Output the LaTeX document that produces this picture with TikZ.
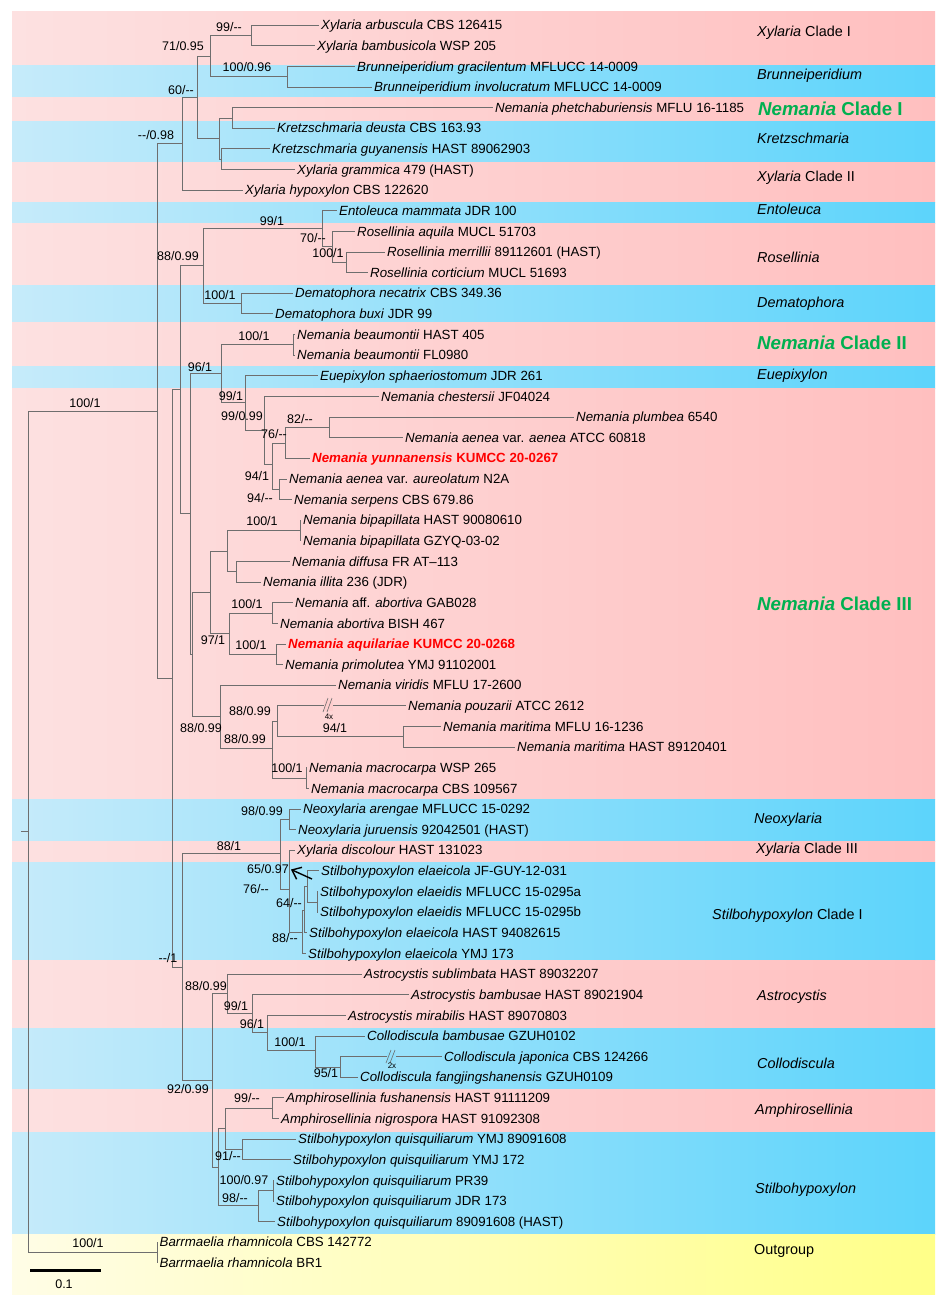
\documentclass[tikz,border=0pt]{standalone}
\usepackage{fontspec}
\setmainfont{Liberation Sans}
\usetikzlibrary{arrows.meta}
\definecolor{pinkL}{HTML}{FDE1E1}
\definecolor{pinkR}{HTML}{FFBFBF}
\definecolor{blueL}{HTML}{C6EBFA}
\definecolor{blueR}{HTML}{5CD4FB}
\definecolor{yelL}{HTML}{FFFDE6}
\definecolor{yelR}{HTML}{FFFF88}
\definecolor{cladegreen}{HTML}{00B050}
\definecolor{branchc}{HTML}{6E6E6E}
\newcommand\dd{-{}-}
\newcommand\leafnode[4]{\node[leaf] (#1) at (#2,#3) {#4};}
\newcommand\pband[3]{\shade[left color=pinkL,right color=pinkR] (12,#1) rectangle (935,#2);}
\newcommand\bband[3]{\shade[left color=blueL,right color=blueR] (12,#1) rectangle (935,#2);}
\begin{document}
\begin{tikzpicture}[x=1pt,y=-1pt,
  leaf/.style={anchor=west,inner sep=2pt,text height=9.5pt,text depth=0pt,font=\fontsize{13.3}{15}\selectfont},
  redleaf/.style={leaf,text=red,font=\fontsize{13.3}{15}\selectfont\bfseries},
  supp/.style={inner sep=0pt,font=\fontsize{12.5}{14}\selectfont},
  clade/.style={anchor=west,inner sep=0pt,font=\fontsize{14.4}{16}\selectfont},
  gclade/.style={anchor=west,inner sep=0pt,text=cladegreen,font=\fontsize{18.7}{20}\selectfont\bfseries},
  br/.style={draw=branchc,line width=0.8pt}]
\useasboundingbox (0,0) rectangle (947,1307);
% ---- background bands
\pband{11}{65}{}
\bband{65}{97}{}
\pband{97}{121}{}
\bband{121}{162}{}
\pband{162}{202}{}
\bband{202}{223}{}
\pband{223}{285}{}
\bband{285}{322}{}
\pband{322}{366}{}
\bband{366}{388}{}
\pband{388}{799}{}
\bband{799}{841}{}
\pband{841}{862}{}
\bband{862}{960}{}
\pband{960}{1028}{}
\bband{1028}{1089}{}
\pband{1089}{1132}{}
\bband{1132}{1234}{}
\shade[left color=yelL,right color=yelR] (12,1234) rectangle (935,1294);
% ---- clade labels
\node[clade] (c1) at (757,33) {\textit{Xylaria} Clade I};
\node[clade] (c2) at (757,76) {\textit{Brunneiperidium}};
\node[gclade] (c3) at (758,109) {\textit{Nemania} Clade I};
\node[clade] (c4) at (757,138) {\textit{Kretzschmaria}};
\node[clade] (c5) at (757,178) {\textit{Xylaria} Clade II};
\node[clade] (c6) at (757,209) {\textit{Entoleuca}};
\node[clade] (c7) at (757,257) {\textit{Rosellinia}};
\node[clade] (c8) at (757,304) {\textit{Dematophora}};
\node[gclade] (c9) at (757,343) {\textit{Nemania} Clade II};
\node[clade] (c10) at (757,376) {\textit{Euepixylon}};
\node[gclade] (c11) at (757,604) {\textit{Nemania} Clade III};
\node[clade] (c12) at (754,820) {\textit{Neoxylaria}};
\node[clade] (c13) at (756,850) {\textit{Xylaria} Clade III};
\node[clade] (c14) at (712,916) {\textit{Stilbohypoxylon} Clade I};
\node[clade] (c15) at (757,997) {\textit{Astrocystis}};
\node[clade] (c16) at (757,1063) {\textit{Collodiscula}};
\node[clade] (c17) at (755,1111) {\textit{Amphirosellinia}};
\node[clade] (c18) at (755,1190) {\textit{Stilbohypoxylon}};
\node[clade] (c19) at (754,1251) {Outgroup};
% ---- leaves
\leafnode{l1}{319}{25.0}{\textit{Xylaria arbuscula} CBS 126415}
\leafnode{l2}{315}{45.6}{\textit{Xylaria bambusicola} WSP 205}
\leafnode{l3}{355}{66.3}{\textit{Brunneiperidium gracilentum} MFLUCC 14-0009}
\leafnode{l4}{372}{86.9}{\textit{Brunneiperidium involucratum} MFLUCC 14-0009}
\leafnode{l5}{493}{107.5}{\textit{Nemania phetchaburiensis} MFLU 16-1185}
\leafnode{l6}{275}{128.2}{\textit{Kretzschmaria deusta} CBS 163.93}
\leafnode{l7}{270}{148.8}{\textit{Kretzschmaria guyanensis} HAST 89062903}
\leafnode{l8}{295}{169.4}{\textit{Xylaria grammica} 479 (HAST)}
\leafnode{l9}{243}{190.0}{\textit{Xylaria hypoxylon} CBS 122620}
\leafnode{l10}{337}{210.7}{\textit{Entoleuca mammata} JDR 100}
\leafnode{l11}{355}{231.3}{\textit{Rosellinia aquila} MUCL 51703}
\leafnode{l12}{385}{251.9}{\textit{Rosellinia merrillii} 89112601 (HAST)}
\leafnode{l13}{368}{272.6}{\textit{Rosellinia corticium} MUCL 51693}
\leafnode{l14}{293}{293.2}{\textit{Dematophora necatrix} CBS 349.36}
\leafnode{l15}{273}{313.8}{\textit{Dematophora buxi} JDR 99}
\leafnode{l16}{295}{334.5}{\textit{Nemania beaumontii} HAST 405}
\leafnode{l17}{295}{355.1}{\textit{Nemania beaumontii} FL0980}
\leafnode{l18}{318}{375.7}{\textit{Euepixylon sphaeriostomum} JDR 261}
\leafnode{l19}{379}{396.3}{\textit{Nemania chestersii} JF04024}
\leafnode{l20}{574}{417.0}{\textit{Nemania plumbea} 6540}
\leafnode{l21}{403}{437.6}{\textit{Nemania aenea} var. \textit{aenea} ATCC 60818}
\node[redleaf] (l22) at (310,458.2) {\textit{Nemania yunnanensis} KUMCC 20-0267};
\leafnode{l23}{287}{478.9}{\textit{Nemania aenea} var. \textit{aureolatum} N2A}
\leafnode{l24}{292}{499.5}{\textit{Nemania serpens} CBS 679.86}
\leafnode{l25}{301}{520.1}{\textit{Nemania bipapillata} HAST 90080610}
\leafnode{l26}{301}{540.8}{\textit{Nemania bipapillata} GZYQ-03-02}
\leafnode{l27}{290}{561.4}{\textit{Nemania diffusa} FR AT–113}
\leafnode{l28}{261}{582.0}{\textit{Nemania illita} 236 (JDR)}
\leafnode{l29}{293}{602.6}{\textit{Nemania} aff. \textit{abortiva} GAB028}
\leafnode{l30}{278}{623.3}{\textit{Nemania abortiva} BISH 467}
\node[redleaf] (l31) at (286,643.9) {\textit{Nemania aquilariae} KUMCC 20-0268};
\leafnode{l32}{283}{664.5}{\textit{Nemania primolutea} YMJ 91102001}
\leafnode{l33}{336}{685.2}{\textit{Nemania viridis} MFLU 17-2600}
\leafnode{l34}{406}{705.8}{\textit{Nemania pouzarii} ATCC 2612}
\leafnode{l35}{441}{726.4}{\textit{Nemania maritima} MFLU 16-1236}
\leafnode{l36}{515}{747.1}{\textit{Nemania maritima} HAST 89120401}
\leafnode{l37}{307}{767.7}{\textit{Nemania macrocarpa} WSP 265}
\leafnode{l38}{309}{788.3}{\textit{Nemania macrocarpa} CBS 109567}
\leafnode{l39}{301}{808.9}{\textit{Neoxylaria arengae} MFLUCC 15-0292}
\leafnode{l40}{296}{829.6}{\textit{Neoxylaria juruensis} 92042501 (HAST)}
\leafnode{l41}{295}{850.2}{\textit{Xylaria discolour} HAST 131023}
\leafnode{l42}{319}{870.8}{\textit{Stilbohypoxylon elaeicola} JF-GUY-12-031}
\leafnode{l43}{318}{891.5}{\textit{Stilbohypoxylon elaeidis} MFLUCC 15-0295a}
\leafnode{l44}{318}{912.1}{\textit{Stilbohypoxylon elaeidis} MFLUCC 15-0295b}
\leafnode{l45}{307}{932.7}{\textit{Stilbohypoxylon elaeicola} HAST 94082615}
\leafnode{l46}{306}{953.4}{\textit{Stilbohypoxylon elaeicola} YMJ 173}
\leafnode{l47}{362}{974.0}{\textit{Astrocystis sublimbata} HAST 89032207}
\leafnode{l48}{409}{994.6}{\textit{Astrocystis bambusae} HAST 89021904}
\leafnode{l49}{346}{1015.3}{\textit{Astrocystis mirabilis} HAST 89070803}
\leafnode{l50}{365}{1035.9}{\textit{Collodiscula bambusae} GZUH0102}
\leafnode{l51}{442}{1056.5}{\textit{Collodiscula japonica} CBS 124266}
\leafnode{l52}{358}{1077.1}{\textit{Collodiscula fangjingshanensis} GZUH0109}
\leafnode{l53}{284}{1097.8}{\textit{Amphirosellinia fushanensis} HAST 91111209}
\leafnode{l54}{279}{1118.4}{\textit{Amphirosellinia nigrospora} HAST 91092308}
\leafnode{l55}{296}{1139.0}{\textit{Stilbohypoxylon quisquiliarum} YMJ 89091608}
\leafnode{l56}{291}{1159.7}{\textit{Stilbohypoxylon quisquiliarum} YMJ 172}
\leafnode{l57}{274}{1180.3}{\textit{Stilbohypoxylon quisquiliarum} PR39}
\leafnode{l58}{274}{1200.9}{\textit{Stilbohypoxylon quisquiliarum} JDR 173}
\leafnode{l59}{275}{1221.6}{\textit{Stilbohypoxylon quisquiliarum} 89091608 (HAST)}
\leafnode{l60}{157.5}{1242.2}{\textit{Barrmaelia rhamnicola} CBS 142772}
\leafnode{l61}{157.5}{1262.8}{\textit{Barrmaelia rhamnicola} BR1}
% ---- internal nodes
\coordinate (stub) at (21,831.5);
\coordinate (R0) at (28,831.5);
\coordinate (I) at (157,411);
\coordinate (A) at (182,143);
\coordinate (B) at (197,97);
\coordinate (C) at (210,56);
\coordinate (Xp) at (251,35.3);
\coordinate (Bp) at (287,76.6);
\coordinate (D) at (219,138);
\coordinate (E) at (232,117.9);
\coordinate (F) at (221,159.1);
\coordinate (J) at (172,678);
\coordinate (K) at (180,389);
\coordinate (H) at (203,265);
\coordinate (Ro) at (322,228);
\coordinate (Ro2) at (332,246.5);
\coordinate (Ro3) at (346,262.3);
\coordinate (Dm) at (241,303.5);
\coordinate (L1) at (190,513);
\coordinate (N) at (221,373);
\coordinate (Nb) at (293,344.8);
\coordinate (O) at (245,402);
\coordinate (P) at (264,430);
\coordinate (Q) at (272,464);
\coordinate (Rn) at (285,443);
\coordinate (S) at (329,427.3);
\coordinate (T) at (279,489.2);
\coordinate (L2) at (192,654);
\coordinate (M) at (210,592);
\coordinate (U) at (227,551);
\coordinate (Bi) at (300,530.5);
\coordinate (Di) at (236,571.7);
\coordinate (V) at (229,633.5);
\coordinate (Ab) at (272,613);
\coordinate (Aq) at (276,654.2);
\coordinate (W) at (220,716);
\coordinate (X) at (272,748);
\coordinate (Y) at (277,721);
\coordinate (Ma) at (403,736.8);
\coordinate (Mc) at (306,778);
\coordinate (Z) at (182,967);
\coordinate (AA) at (280,853);
\coordinate (Nx) at (289,819.3);
\coordinate (CC) at (289,889);
\coordinate (E4) at (302,932);
\coordinate (E3) at (304,910);
\coordinate (E2) at (307,886);
\coordinate (E1) at (317,902);
\coordinate (BB) at (212,1080);
\coordinate (EE) at (227,993);
\coordinate (KK) at (252,1013);
\coordinate (LL) at (267,1032);
\coordinate (MM) at (315,1050);
\coordinate (NN) at (340,1067);
\coordinate (FF) at (218,1167);
\coordinate (GG) at (225,1128);
\coordinate (Am) at (272,1108);
\coordinate (II) at (242,1149);
\coordinate (HH) at (258,1205);
\coordinate (JJ) at (273,1190.6);
\coordinate (OG) at (157,1252.5);
% ---- branches
\draw[br] (stub) -- (R0);
\foreach \p/\c in {R0/I,R0/OG,I/A,I/J,A/B,B/C,B/D,C/Xp,C/Bp,D/E,D/F,
  J/K,J/Z,K/H,K/L1,H/Ro,H/Dm,Ro/Ro2,Ro2/Ro3,L1/N,L1/L2,N/Nb,N/O,O/P,P/Q,Q/Rn,Q/T,Rn/S,
  L2/M,L2/W,M/U,M/V,U/Bi,U/Di,V/Ab,V/Aq,W/X,X/Y,X/Mc,Y/Ma,
  Z/AA,Z/BB,AA/Nx,AA/CC,CC/E4,E4/E3,E3/E2,E2/E1,
  BB/EE,BB/FF,EE/KK,KK/LL,LL/MM,MM/NN,FF/GG,FF/HH,GG/Am,GG/II,HH/JJ}
  \draw[br] (\p) |- (\c);
\foreach \p/\c in {A/l9,Xp/l1,Xp/l2,Bp/l3,Bp/l4,E/l5,E/l6,F/l7,F/l8,
  Ro/l10,Ro2/l11,Ro3/l12,Ro3/l13,Dm/l14,Dm/l15,Nb/l16,Nb/l17,O/l18,P/l19,
  S/l20,S/l21,Rn/l22,T/l23,T/l24,Bi/l25,Bi/l26,Di/l27,Di/l28,Ab/l29,Ab/l30,
  Aq/l31,Aq/l32,W/l33,Y/l34,Ma/l35,Ma/l36,Mc/l37,Mc/l38,Nx/l39,Nx/l40,
  CC/l41,E2/l42,E1/l43,E1/l44,E3/l45,E4/l46,EE/l47,KK/l48,LL/l49,MM/l50,
  NN/l51,NN/l52,Am/l53,Am/l54,II/l55,II/l56,JJ/l57,JJ/l58,HH/l59,OG/l60,OG/l61}
  \draw[br] (\p) |- (\c.west);
% ---- break marks
\fill[pinkR!60!pinkL] (324,700) rectangle (333,711);
\draw[br,line width=0.6pt] (323,712) -- (328,698) (327,712) -- (332,698);
\node[inner sep=0pt,font=\fontsize{8}{9}\selectfont] (x4) at (329,717) {4x};
\fill[blueL!50!blueR] (387,1052) rectangle (396,1062);
\draw[br,line width=0.6pt] (386,1063) -- (391,1050) (390,1063) -- (395,1050);
\node[inner sep=0pt,font=\fontsize{8}{9}\selectfont] (x2) at (392,1066) {2x};
% ---- arrow
\coordinate (arA) at (312,879);
\coordinate (arB) at (291,869.5);
\draw[line width=1.4pt,-{Straight Barb[length=8pt,width=13pt]}] (arA) -- (arB);
% ---- support values
\node[supp] (s1) at (229,27) {99/\dd};
\node[supp] (s2) at (183,46) {71/0.95};
\node[supp] (s3) at (247,67) {100/0.96};
\node[supp] (s4) at (181,90) {60/\dd};
\node[supp] (s5) at (156,135) {\dd/0.98};
\node[supp] (s6) at (272,221) {99/1};
\node[supp] (s7) at (178,256) {88/0.99};
\node[supp] (s8) at (313,238) {70/\dd};
\node[supp] (s9) at (328,253) {100/1};
\node[supp] (s10) at (220,295) {100/1};
\node[supp] (s11) at (254,336) {100/1};
\node[supp] (s12) at (200,367) {96/1};
\node[supp] (s13) at (231,396) {99/1};
\node[supp] (s14) at (85,403) {100/1};
\node[supp] (s15) at (242,416) {99/0.99};
\node[supp] (s16) at (300,419) {82/\dd};
\node[supp] (s17) at (274,434) {76/\dd};
\node[supp] (s18) at (257,476) {94/1};
\node[supp] (s19) at (260,498) {94/\dd};
\node[supp] (s20) at (262,521) {100/1};
\node[supp] (s21) at (247,604) {100/1};
\node[supp] (s22) at (213,640) {97/1};
\node[supp] (s23) at (251,645) {100/1};
\node[supp] (s24) at (250,711) {88/0.99};
\node[supp] (s25) at (201,728) {88/0.99};
\node[supp] (s26) at (335,728) {94/1};
\node[supp] (s27) at (245,739) {88/0.99};
\node[supp] (s28) at (287,768) {100/1};
\node[supp] (s29) at (262,811) {98/0.99};
\node[supp] (s30) at (229,846) {88/1};
\node[supp] (s31) at (268,869) {65/0.97};
\node[supp] (s32) at (256,889) {76/\dd};
\node[supp] (s33) at (289,903) {64/\dd};
\node[supp] (s34) at (285,938) {88/\dd};
\node[supp] (s35) at (168,958) {\dd/1};
\node[supp] (s36) at (206,986) {88/0.99};
\node[supp] (s37) at (236,1006) {99/1};
\node[supp] (s38) at (252,1024) {96/1};
\node[supp] (s39) at (290,1042) {100/1};
\node[supp] (s40) at (326,1073) {95/1};
\node[supp] (s41) at (188,1089) {92/0.99};
\node[supp] (s42) at (247,1098) {99/\dd};
\node[supp] (s43) at (228,1156) {91/\dd};
\node[supp] (s44) at (244,1180) {100/0.97};
\node[supp] (s45) at (235,1198) {98/\dd};
\node[supp] (s46) at (88,1243) {100/1};
% ---- scale bar
\coordinate (sb1) at (30,1270);
\coordinate (sb2) at (101,1270);
\draw[line width=3pt] (sb1) -- (sb2);
\node[supp] (sbl) at (64,1284) {0.1};
\end{tikzpicture}
\end{document}
